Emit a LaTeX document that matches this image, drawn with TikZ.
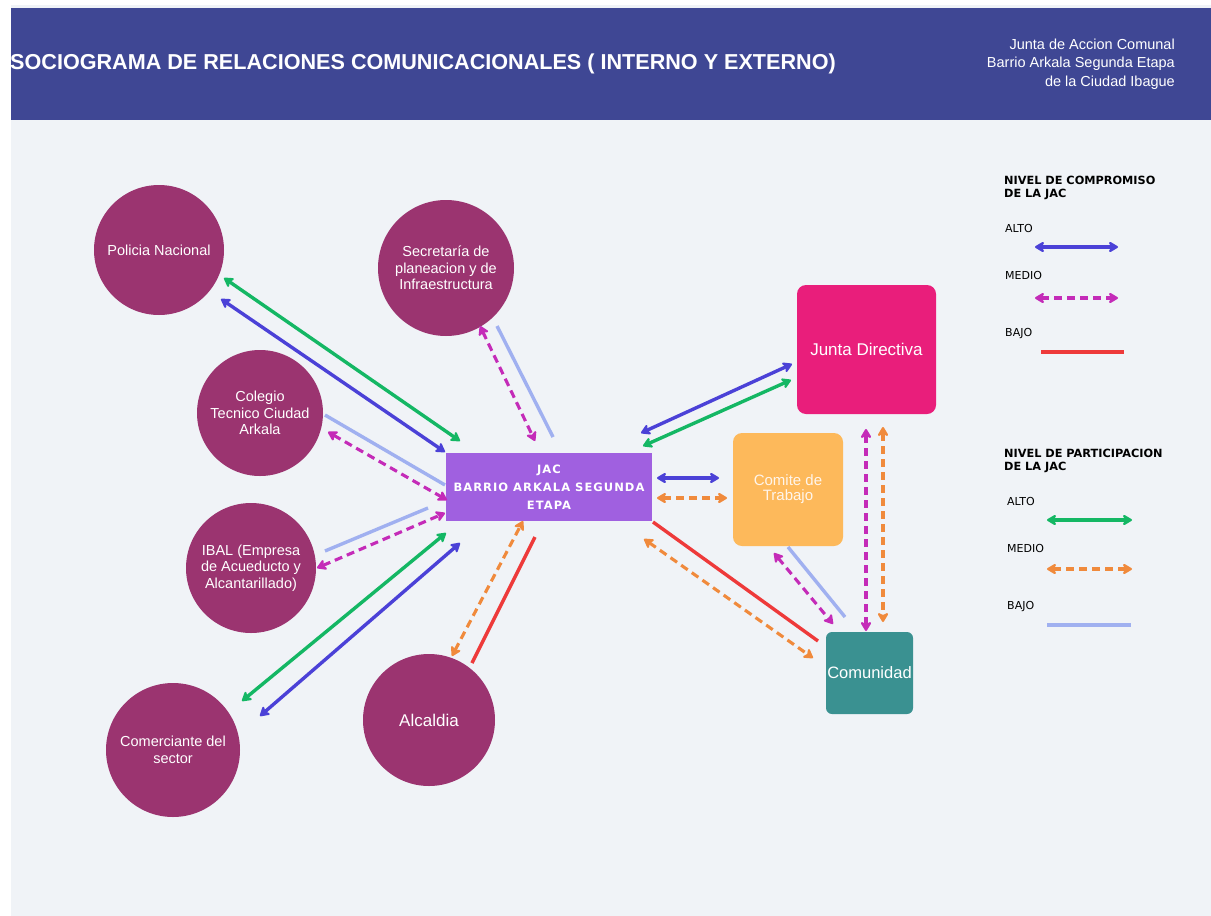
\documentclass[tikz,border=0pt]{standalone}
\usepackage{fontspec}
\setmainfont{Liberation Sans}
\newfontfamily\jacfont[LetterSpace=9]{DejaVu Sans}
\newfontfamily\legfont{DejaVu Sans}
\usepackage{xcolor}
\usepackage{tikz}
\usetikzlibrary{arrows.meta, positioning}

\definecolor{headblue}{RGB}{63,71,148}
\definecolor{paper}{RGB}{240,243,247}
\definecolor{plum}{RGB}{155,52,112}
\definecolor{jacpurple}{RGB}{160,96,224}
\definecolor{juntapink}{RGB}{233,30,123}
\definecolor{comiteorange}{RGB}{253,185,91}
\definecolor{comuteal}{RGB}{58,145,145}
\definecolor{lblue}{RGB}{75,65,215}
\definecolor{lmag}{RGB}{196,43,184}
\definecolor{lred}{RGB}{238,58,58}
\definecolor{lgreen}{RGB}{20,183,100}
\definecolor{lorange}{RGB}{240,138,60}
\definecolor{llight}{RGB}{160,176,240}

\tikzset{
    actor/.style={circle, fill=plum, text=white, inner sep=0pt, minimum size=#1, align=center, font=\fontsize{14.5}{16.5}\selectfont},
    group/.style={rectangle, rounded corners=9pt, fill=#1, inner sep=0pt, align=center},
    twoway/.style={{Stealth[length=11pt,width=13pt,inset=3pt,round]}-{Stealth[length=11pt,width=13pt,inset=3pt,round]}},
    compalto/.style={draw=lblue, line width=3.4pt, twoway},
    compmedio/.style={draw=lmag, line width=3.1pt, dash pattern=on 8pt off 5pt, twoway},
    compbajo/.style={draw=lred, line width=3.4pt},
    partalto/.style={draw=lgreen, line width=3.4pt, twoway},
    partmedio/.style={draw=lorange, line width=3.1pt, dash pattern=on 8pt off 5pt, twoway},
    partbajo/.style={draw=llight, line width=3.4pt},
    legtitle/.style={anchor=west, inner sep=0pt, align=left, font=\legfont\bfseries\fontsize{11.3}{13}\selectfont},
    leglabel/.style={anchor=west, inner sep=0pt, font=\legfont\fontsize{11}{12}\selectfont}
}

\begin{document}
\begin{tikzpicture}[x=1pt, y=-1pt]
    \useasboundingbox (0,0) rectangle (1211,916);

    % Background and header
    \fill[white] (0,0) rectangle (1211,916);
    \fill[paper] (11,5) rectangle (1211,916);
    \fill[headblue] (11,8) rectangle (1211,120);
    \node[anchor=west, inner sep=0pt, text=white, font=\bfseries\fontsize{21.6}{25}\selectfont] (title) at (10,64)
        {SOCIOGRAMA DE RELACIONES COMUNICACIONALES ( INTERNO Y EXTERNO)};
    \node[anchor=east, inner sep=0pt, align=right, text=white, font=\fontsize{14.5}{18.5}\selectfont] (jacname) at (1175,64)
        {Junta de Accion Comunal\\Barrio Arkala Segunda Etapa\\de la Ciudad Ibague};

    % Central node
    \node[rectangle, fill=jacpurple, text=white, minimum width=206pt, minimum height=68pt, inner sep=0pt, align=center,
        font=\jacfont\bfseries\fontsize{11.5}{18}\selectfont] (jac) at (549,487) {JAC\\BARRIO ARKALA SEGUNDA\\ETAPA};

    % External actors
    \node[actor=130pt] (pol) at (159,250) {Policia Nacional};
    \node[actor=136pt] (sec) at (446,268) {Secretaría de\\planeacion y de\\Infraestructura};
    \node[actor=126pt] (col) at (260,413) {Colegio\\Tecnico Ciudad\\Arkala};
    \node[actor=130pt] (ibal) at (251,568) {IBAL (Empresa\\de Acueducto y\\Alcantarillado)};
    \node[actor=134pt] (com) at (173,750) {Comerciante del\\sector};
    \node[actor=132pt, font=\fontsize{17}{20}\selectfont] (alc) at (429,720) {Alcaldia};

    % Internal groups
    \node[group=juntapink, minimum width=139pt, minimum height=129pt, text=white, font=\fontsize{17}{20}\selectfont] (jun) at (866.5,349.5) {Junta Directiva};
    \node[group=comiteorange, minimum width=110pt, minimum height=113pt, text=white!92!orange, font=\fontsize{15}{15}\selectfont] (comi) at (788,489.5) {Comite de\\Trabajo};
    \node[group=comuteal, rounded corners=6pt, minimum width=87pt, minimum height=82pt, text=white, font=\fontsize{16.5}{19}\selectfont] (comu) at (869.5,673) {Comunidad};

    % Relations with external actors
    \draw[partalto] ([xshift=65pt,yshift=-28pt]pol.center) -- ([xshift=-89pt,yshift=46pt]jac.center);
    \draw[compalto] ([xshift=62pt,yshift=-49pt]pol.center) -- ([xshift=-104pt,yshift=35pt]jac.center);
    \draw[compmedio] ([xshift=34pt,yshift=-58pt]sec.center) -- ([xshift=-14pt,yshift=46pt]jac.center);
    \draw[partbajo] ([xshift=51pt,yshift=-58pt]sec.center) -- ([xshift=4pt,yshift=50pt]jac.center);
    \draw[partbajo] ([xshift=65pt,yshift=-2pt]col.center) -- ([xshift=-104pt,yshift=2pt]jac.center);
    \draw[compmedio] ([xshift=68pt,yshift=-19pt]col.center) -- ([xshift=-102pt,yshift=-13pt]jac.center);
    \draw[partbajo] ([xshift=74pt,yshift=17pt]ibal.center) -- ([xshift=-121pt,yshift=-21pt]jac.center);
    \draw[compmedio] ([xshift=66pt]ibal.center) -- ([xshift=-104pt,yshift=-26pt]jac.center);
    \draw[partalto] ([xshift=69pt,yshift=49pt]com.center) -- ([xshift=-103pt,yshift=-46pt]jac.center);
    \draw[compalto] ([xshift=87pt,yshift=34pt]com.center) -- ([xshift=-89pt,yshift=-56pt]jac.center);
    \draw[partmedio] ([xshift=23pt,yshift=64pt]alc.center) -- ([xshift=-26pt,yshift=-34pt]jac.center);
    \draw[compbajo] ([xshift=43pt,yshift=57pt]alc.center) -- ([xshift=-14pt,yshift=-50pt]jac.center);

    % Relations inside the JAC
    \draw[compalto] ([xshift=92pt,yshift=54pt]jac.center) -- ([xshift=-74.5pt,yshift=-14.5pt]jun.center);
    \draw[partalto] ([xshift=94pt,yshift=41pt]jac.center) -- ([xshift=-75.5pt,yshift=-30.5pt]jun.center);
    \draw[compalto] ([xshift=108pt,yshift=9pt]jac.center) -- ([xshift=-69pt,yshift=11.5pt]comi.center);
    \draw[partmedio] ([xshift=108pt,yshift=-11pt]jac.center) -- ([xshift=-61pt,yshift=-8.5pt]comi.center);
    \draw[compbajo] ([xshift=104pt,yshift=-35pt]jac.center) -- ([xshift=-51.5pt,yshift=32pt]comu.center);
    \draw[partmedio] ([xshift=95pt,yshift=-52pt]jac.center) -- ([xshift=-56.5pt,yshift=15pt]comu.center);
    \draw[compmedio] ([xshift=-14pt,yshift=-63.5pt]comi.center) -- ([xshift=-36.5pt,yshift=49pt]comu.center);
    \draw[partbajo] ([yshift=-57.5pt]comi.center) -- ([xshift=-24.5pt,yshift=56pt]comu.center);
    \draw[compmedio] ([xshift=-0.5pt,yshift=-79.5pt]jun.center) -- ([xshift=-3.5pt,yshift=42pt]comu.center);
    \draw[partmedio] ([xshift=16.5pt,yshift=-77.5pt]jun.center) -- ([xshift=13.5pt,yshift=51pt]comu.center);

    % Legend: compromiso
    \node[legtitle] (comptitle) at (1004,188) {NIVEL DE COMPROMISO\\DE LA JAC};
    \node[leglabel] (compa) at (1005,228) {ALTO};
    \node[leglabel] (compm) at (1005,275) {MEDIO};
    \node[leglabel] (compb) at (1005,334) {BAJO};
    \coordinate (compa1) at (1035,247); \coordinate (compa2) at (1118,247);
    \coordinate (compm1) at (1035,298); \coordinate (compm2) at (1118,298);
    \coordinate (compb1) at (1041,352); \coordinate (compb2) at (1124,352);
    \draw[compalto] (compa1) -- (compa2);
    \draw[compmedio] (compm1) -- (compm2);
    \draw[compbajo] (compb1) -- (compb2);

    % Legend: participacion
    \node[legtitle] (parttitle) at (1004,461) {NIVEL DE PARTICIPACION\\DE LA JAC};
    \node[leglabel] (parta) at (1007,501) {ALTO};
    \node[leglabel] (partm) at (1007,548) {MEDIO};
    \node[leglabel] (partb) at (1007,607) {BAJO};
    \coordinate (parta1) at (1047,520); \coordinate (parta2) at (1132,520);
    \coordinate (partm1) at (1047,569); \coordinate (partm2) at (1132,569);
    \coordinate (partb1) at (1047,625); \coordinate (partb2) at (1131,625);
    \draw[partalto] (parta1) -- (parta2);
    \draw[partmedio] (partm1) -- (partm2);
    \draw[partbajo] (partb1) -- (partb2);
\end{tikzpicture}
\end{document}
